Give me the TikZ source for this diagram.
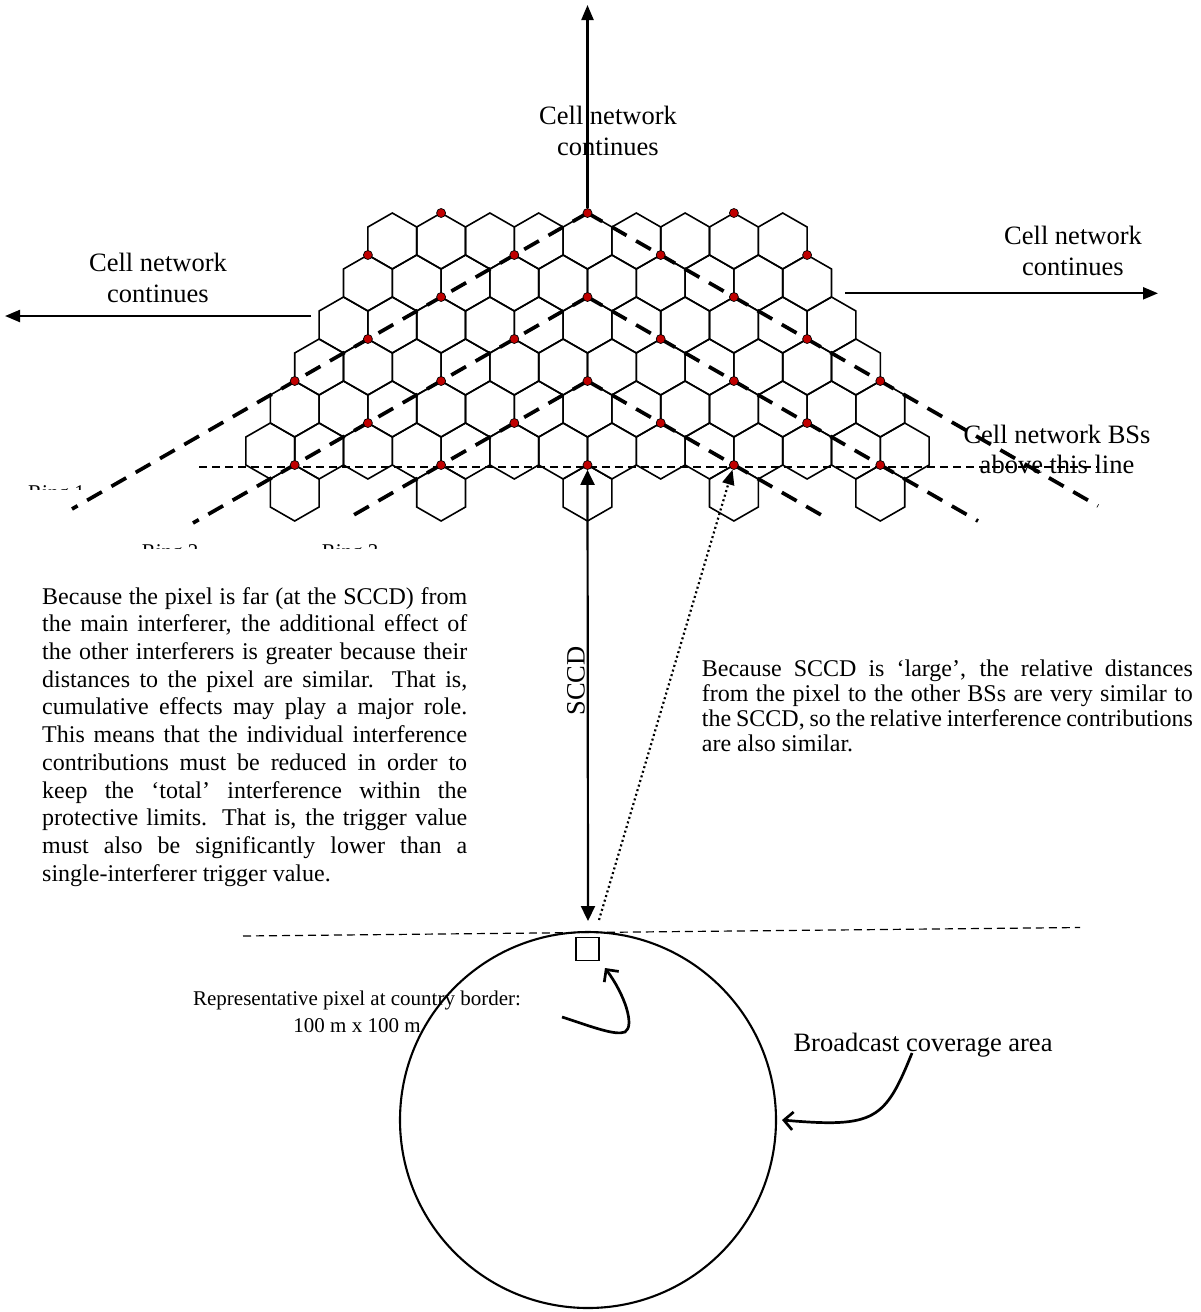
\documentclass[tikz,border=0pt]{standalone}
\usepackage{fontspec}
\setmainfont{Liberation Serif}
\usetikzlibrary{arrows.meta,positioning}
\definecolor{bsred}{RGB}{192,0,0}
\newcommand{\hexcell}[2]{\draw[cell] ({#1},{#2}) +(0,-28) -- +(24.4,-14) -- +(24.4,14) -- +(0,28) -- +(-24.4,14) -- +(-24.4,-14) -- cycle;}
\newcommand{\jl}[2]{\makebox[#1pt][s]{#2}\\}
\tikzset{
  cell/.style={line width=1.6pt},
  bs/.style={circle,draw=black,line width=0.7pt,fill=bsred,inner sep=0pt,minimum size=9pt},
  ring/.style={line width=3.7pt,dash pattern=on 17pt off 11pt},
  border/.style={line width=1.2pt,dash pattern=on 8pt off 5pt},
  lbl/.style={align=center,inner sep=0pt,font=\fontsize{26.5}{31}\selectfont},
  para/.style={align=left,inner sep=0pt,anchor=north west},
  tip/.style={-{Triangle[length=15pt,width=12pt]},line width=2.2pt},
  barb/.style={-{Straight Barb[length=9pt,width=18pt]},line width=2.7pt},
}
\begin{document}
\begin{tikzpicture}[x=1pt,y=-1pt]
  \useasboundingbox (0,0) rectangle (1200,1312);
  % cells of the network
  \foreach \row in {1,...,6}{
    \pgfmathtruncatemacro\cnt{\row+8}
    \foreach \k in {1,...,\cnt}{
      \hexcell{587.5+(\k-(\cnt+1)/2)*48.8}{241+42*(\row-1)}
    }
  }
  \foreach \j in {-2,...,2}{
    \hexcell{587.5+146.4*\j}{493}
  }
  \coordinate (bl_a) at (199,467);
  \coordinate (bl_b) at (1097,467);
  \draw[border] (bl_a) -- (bl_b);
  % rings of interferers
  \coordinate (r_a) at (587.5,213);
  \coordinate (r_b) at (587.5,297);
  \coordinate (r_c) at (587.5,381);
  \coordinate (r_al) at (72,509);
  \coordinate (r_ar) at (1098,506);
  \coordinate (r_bl) at (193,523);
  \coordinate (r_br) at (978,521);
  \coordinate (r_cl) at (346.7,519);
  \coordinate (r_cr) at (830,520);
  \draw[ring] (r_a) -- (r_al) (r_a) -- (r_ar)
              (r_b) -- (r_bl) (r_b) -- (r_br)
              (r_c) -- (r_cl) (r_c) -- (r_cr);
  % base stations
  \foreach \row in {1,...,7}{
    \foreach \j in {-4,...,4}{
      \pgfmathtruncatemacro\ok{(3*abs(\j)<=\row+7) && (mod(abs(\row+\j),2)==1)}
      \ifnum\ok=1
        \node[bs] (bs\row_\j) at ({587.5+73.2*\j},{213+42*(\row-1)}) {};
      \fi
    }
  }
  % network continues
  \coordinate (up_end) at (587.5,5);
  \coordinate (l_beg) at (311,316);
  \coordinate (l_end) at (5,316);
  \coordinate (rt_beg) at (845,293.3);
  \coordinate (rt_end) at (1158,293.3);
  \draw[tip] (bs1_0) -- (up_end);
  \draw[tip] (l_beg) -- (l_end);
  \draw[tip] (rt_beg) -- (rt_end);
  \node[lbl] (lbl_top) at (608,131) {Cell network\\continues};
  \node[lbl] (lbl_left) at (158,278) {Cell network\\continues};
  \node[lbl] (lbl_right) at (1073,251) {Cell network\\continues};
  \node[lbl,font=\fontsize{26.5}{30}\selectfont] (lbl_bs) at (1057,449) {Cell network BSs\\above this line};
  % ring labels, only their tops show
  \begin{scope}
    \clip (0,470) rectangle (120,489);
    \node[anchor=base west,inner sep=0pt,font=\fontsize{21}{25}\selectfont] (ring_1) at (28,499) {Ring 1};
  \end{scope}
  \begin{scope}
    \clip (100,530) rectangle (420,548);
    \node[anchor=base west,inner sep=0pt,font=\fontsize{21}{25}\selectfont] (ring_2) at (141.7,558) {Ring 2};
    \node[anchor=base west,inner sep=0pt,font=\fontsize{21}{25}\selectfont] (ring_3) at (321.7,558) {Ring 3};
  \end{scope}
  % pixel and coverage area
  \coordinate (cb_a) at (243,936);
  \coordinate (cb_b) at (1080,927.5);
  \draw[border] (cb_a) -- (cb_b);
  \node[circle,draw,line width=2.1pt,minimum size=376pt,inner sep=0pt] (cov) at (588,1120) {};
  \node[draw,line width=1.8pt,minimum size=23pt,inner sep=0pt] (pix) at (587.7,949) {};
  \coordinate (sccd_end) at (588,921);
  \draw[{Triangle[length=15pt,width=14pt]}-{Triangle[length=15pt,width=14pt]},line width=2.2pt] (bs7_0) -- (sccd_end);
  \node[lbl,rotate=90] (lbl_sccd) at (576,681) {SCCD};
  \coordinate (dot_beg) at (599,920);
  \draw[-{Triangle[length=15pt,width=12pt]},line width=2.2pt,dash pattern=on 2pt off 2.8pt] (dot_beg) -- (bs7_2);
  % texts
  \node[para,font=\fontsize{24}{27.7}\selectfont] (txt_left) at (42,587) {%
    \jl{425}{Because the pixel is far (at the SCCD) from}%
    \jl{425}{the main interferer, the additional effect of}%
    \jl{425}{the other interferers is greater because their}%
    \jl{425}{distances to the pixel are similar. That is,}%
    \jl{425}{cumulative effects may play a major role.}%
    \jl{425}{This means that the individual interference}%
    \jl{425}{contributions must be reduced in order to}%
    \jl{425}{keep the ‘total’ interference within the}%
    \jl{425}{protective limits. That is, the trigger value}%
    \jl{425}{must also be significantly lower than a}%
    single-interferer trigger value.};
  \node[para,font=\fontsize{24}{25}\selectfont] (txt_right) at (701.7,660) {%
    \jl{491}{Because SCCD is ‘large’, the relative distances}%
    \jl{491}{from the pixel to the other BSs are very similar to}%
    \jl{491}{the SCCD, so the relative interference contributions}%
    are also similar.};
  \node[lbl,font=\fontsize{21}{27}\selectfont] (lbl_pix) at (357,1012) {Representative pixel at country border:\\100 m x 100 m};
  \node[lbl] (lbl_cov) at (923,1045) {Broadcast coverage area};
  \coordinate (pix_tail) at (562,1017);
  \coordinate (pix_tip) at (605,968);
  \draw[barb] (pix_tail) .. controls (590,1026) and (615,1036) .. (625,1032) .. controls (635,1026) and (625,995) .. (pix_tip);
  \coordinate (cov_tail) at (912,1053);
  \coordinate (cov_tip) at (782,1120);
  \draw[barb] (cov_tail) .. controls (885,1120) and (875,1128) .. (cov_tip);
\end{tikzpicture}
\end{document}
